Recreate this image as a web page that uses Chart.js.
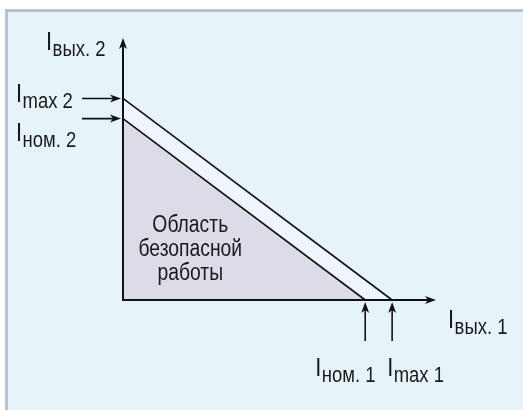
<!DOCTYPE html>
<html>
<head>
<meta charset="utf-8">
<script src="https://cdn.jsdelivr.net/npm/chart.js@4"></script>
<style>
html, body { margin: 0; padding: 0; background: #fff; }
#wrap { position: relative; width: 523px; height: 410px; overflow: hidden; }
#panel { position: absolute; left: 5px; top: 9px; right: 0; bottom: 0; background: #e6f4f9;
         border-top: 3px solid #b8c2cc; border-left: 3px solid #b8c2cc; }
canvas { position: absolute; left: 0; top: 0; }
</style>
</head>
<body>
<div id="wrap"><div id="panel"></div><canvas id="chart" width="523" height="410"></canvas></div>
<script>
// токи в долях от Imax: [ном., max]
const levelNames = ['ном.', 'max'];
const out1Levels = [0.9, 1.0];   // Iвых. 1
const out2Levels = [0.9, 1.0];   // Iвых. 2
const axisNames = ['вых. 1', 'вых. 2'];
const areaText = ['Область', 'безопасной', 'работы'];
const xMax = 1.163;
const yMax = 1.30;

const FONT = '"Liberation Sans", Arial, sans-serif';
const NARROW = 0.84;

function narrowText(ctx, text, x, y, size, align) {
    ctx.save();
    ctx.font = size + 'px ' + FONT;
    const w = ctx.measureText(text).width * NARROW;
    const left = align === 'center' ? x - w / 2 : x;
    ctx.translate(left, y);
    ctx.scale(NARROW, 1);
    ctx.textAlign = 'left';
    ctx.textBaseline = 'alphabetic';
    ctx.fillText(text, 0, 0);
    ctx.restore();
    return w;
}

// "I" с нижним индексом
function currentLabel(ctx, sub, x, y) {
    const w = narrowText(ctx, 'I', x, y, 26);
    narrowText(ctx, sub, x + w + 0.5, y + 6, 22);
}

function line(ctx, x1, y1, x2, y2) {
    ctx.beginPath();
    ctx.moveTo(x1, y1);
    ctx.lineTo(x2, y2);
    ctx.stroke();
}

function arrowHead(ctx, x, y, dir) {
    ctx.beginPath();
    if (dir === 'up') {
        ctx.moveTo(x, y); ctx.lineTo(x - 4, y + 11); ctx.lineTo(x, y + 8); ctx.lineTo(x + 4, y + 11);
    } else {
        ctx.moveTo(x, y); ctx.lineTo(x - 11, y - 4); ctx.lineTo(x - 8, y); ctx.lineTo(x - 11, y + 4);
    }
    ctx.closePath();
    ctx.fill();
}

const diagramPlugin = {
    id: 'diagram',
    afterDatasetsDraw(chart) {
        const ctx = chart.ctx;
        const xs = chart.scales.x, ys = chart.scales.y;
        const x0 = xs.getPixelForValue(0), y0 = ys.getPixelForValue(0);
        const xTip = xs.getPixelForValue(xMax), yTip = ys.getPixelForValue(yMax);

        ctx.save();
        ctx.strokeStyle = '#111';
        ctx.fillStyle = '#111';

        // оси
        ctx.lineWidth = 2;
        line(ctx, x0, y0 + 1, x0, yTip + 6);
        arrowHead(ctx, x0, yTip, 'up');
        line(ctx, x0 - 1, y0, xTip - 6, y0);
        arrowHead(ctx, xTip, y0, 'right');

        // стрелки-указатели
        ctx.lineWidth = 1.6;
        out2Levels.forEach(v => {
            const py = ys.getPixelForValue(v);
            line(ctx, x0 - 41, py, x0 - 7, py);
            arrowHead(ctx, x0 - 2, py, 'right');
        });
        out1Levels.forEach(v => {
            const px = xs.getPixelForValue(v);
            line(ctx, px, y0 + 41, px, y0 + 7);
            arrowHead(ctx, px, y0 + 2, 'up');
        });

        // подписи
        ctx.fillStyle = '#1a1a1a';
        currentLabel(ctx, axisNames[1], x0 - 77, yTip + 12);
        currentLabel(ctx, axisNames[0], xTip + 12, y0 + 28);
        currentLabel(ctx, levelNames[1] + ' 2', 16, ys.getPixelForValue(out2Levels[1]) + 4);
        currentLabel(ctx, levelNames[0] + ' 2', 16, ys.getPixelForValue(out2Levels[0]) + 22);
        currentLabel(ctx, levelNames[0] + ' 1', xs.getPixelForValue(out1Levels[0]) - 50, y0 + 76);
        currentLabel(ctx, levelNames[1] + ' 1', xs.getPixelForValue(out1Levels[1]) - 5, y0 + 76);

        const cx = xs.getPixelForValue(0.25);
        const ty = ys.getPixelForValue(0.336);
        areaText.forEach((t, i) => narrowText(ctx, t, cx, ty + i * 24, 23, 'center'));
        ctx.restore();
    }
};

new Chart(document.getElementById('chart'), {
    type: 'scatter',
    data: {
        datasets: [
            {
                // номинальная область
                data: [{ x: 0, y: out2Levels[0] }, { x: out1Levels[0], y: 0 }],
                showLine: true,
                fill: 'origin',
                backgroundColor: '#dcdbe8',
                borderColor: '#111',
                borderWidth: 1.6,
                pointRadius: 0,
                clip: false
            },
            {
                // максимальная область
                data: [{ x: 0, y: out2Levels[1] }, { x: out1Levels[1], y: 0 }],
                showLine: true,
                fill: 'origin',
                backgroundColor: '#eef6fc',
                borderColor: '#111',
                borderWidth: 1.6,
                pointRadius: 0,
                clip: false
            }
        ]
    },
    options: {
        responsive: false,
        animation: false,
        devicePixelRatio: 1,
        events: [],
        layout: { padding: { left: 123, right: 87, top: 38, bottom: 110 } },
        plugins: {
            legend: { display: false },
            tooltip: { enabled: false }
        },
        scales: {
            x: { type: 'linear', min: 0, max: xMax, display: false },
            y: { type: 'linear', min: 0, max: yMax, display: false }
        }
    },
    plugins: [diagramPlugin]
});
</script>
</body>
</html>
